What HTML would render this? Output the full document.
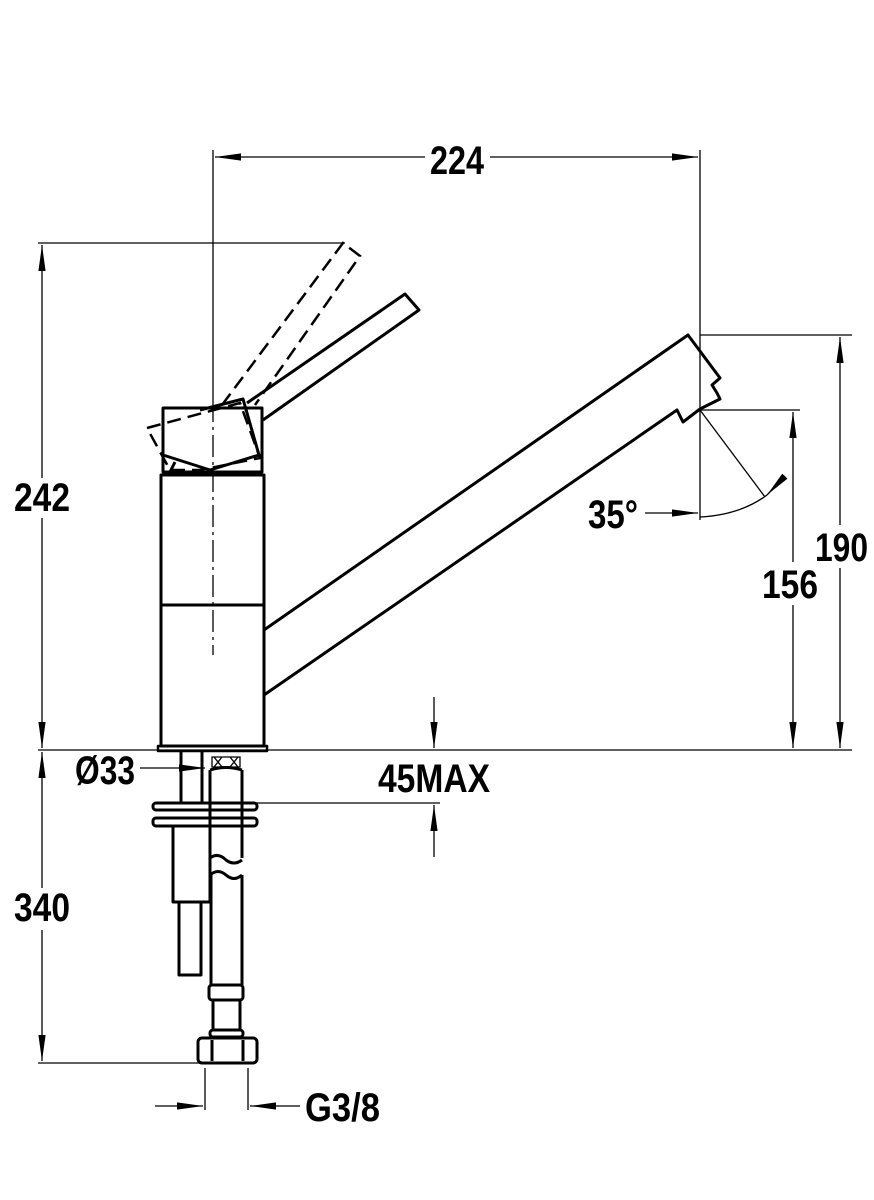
<!DOCTYPE html>
<html><head><style>body{margin:0;background:#fff}svg{display:block}text{font-family:"Liberation Sans",sans-serif;font-weight:bold;font-size:40px;fill:#000}</style></head><body>
<svg width="874" height="1200" viewBox="0 0 874 1200" xmlns="http://www.w3.org/2000/svg">
<defs>
<marker id="b" viewBox="0 0 10 10" refX="10" refY="5" markerWidth="26" markerHeight="8" orient="auto-start-reverse" markerUnits="userSpaceOnUse" preserveAspectRatio="none"><path d="M0,0.5L10,5L0,9.5z" fill="#000"/></marker></defs>
<g stroke="#000" fill="none" stroke-width="1.3">
<line x1="213" y1="150" x2="213" y2="400"/>
<line x1="213" y1="400" x2="213" y2="655" stroke-dasharray="22,5,3,5"/>
<line x1="700" y1="150" x2="700" y2="520"/>
<line x1="215" y1="157" x2="425" y2="157" marker-start="url(#b)"/>
<line x1="490" y1="157" x2="698" y2="157" marker-end="url(#b)"/>
<line x1="38" y1="243" x2="345" y2="243"/>
<line x1="42" y1="245" x2="42" y2="478" marker-start="url(#b)"/>
<line x1="42" y1="518" x2="42" y2="748" marker-end="url(#b)"/>
<line x1="38" y1="750" x2="852" y2="750"/>
<line x1="700" y1="335" x2="852" y2="335"/>
<line x1="840" y1="337" x2="840" y2="525" marker-start="url(#b)"/>
<line x1="840" y1="568" x2="840" y2="748" marker-end="url(#b)"/>
<line x1="700" y1="410" x2="800" y2="410"/>
<line x1="793" y1="412" x2="793" y2="562" marker-start="url(#b)"/>
<line x1="793" y1="605" x2="793" y2="748" marker-end="url(#b)"/>
<line x1="700" y1="410" x2="765" y2="497"/>
<path d="M700,517 Q740,515 767,495"/>
<line x1="767" y1="495" x2="785" y2="476" marker-start="url(#b)"/>
<line x1="645" y1="513" x2="698" y2="513" marker-end="url(#b)"/>
<line x1="434" y1="697" x2="434" y2="748" marker-end="url(#b)"/>
<line x1="434" y1="857" x2="434" y2="805" marker-end="url(#b)"/>
<line x1="255" y1="803" x2="440" y2="803"/>
<line x1="140" y1="768" x2="205" y2="768" marker-end="url(#b)"/>
<line x1="42" y1="752" x2="42" y2="888" marker-start="url(#b)"/>
<line x1="42" y1="930" x2="42" y2="1061" marker-end="url(#b)"/>
<line x1="38" y1="1063" x2="200" y2="1063"/>
<line x1="205" y1="1068" x2="205" y2="1110"/>
<line x1="248" y1="1068" x2="248" y2="1110"/>
<line x1="155" y1="1106" x2="203" y2="1106" marker-end="url(#b)"/>
<line x1="300" y1="1106" x2="250" y2="1106" marker-end="url(#b)"/>
</g>
<g stroke="#000" fill="none" stroke-width="3" stroke-linejoin="round">
<rect x="161" y="475" width="103" height="271"/>
<line x1="161" y1="605" x2="264" y2="605"/>
<rect x="158" y="746" width="109" height="5" stroke-width="2.5"/>
<rect x="163" y="408" width="99" height="64"/>
<path d="M163,455 L210,470 L259,455 L243,399 L200,410"/>
<line x1="170" y1="472" x2="175" y2="462"/>
<path d="M247,403 L405,294 L419,310 L263,420"/>
<path d="M264,630 L688,335 L720,378 L712,385 L717,393 L720,399 L700,409 L683,422 L677,410 L264,695"/>
<line x1="181" y1="752" x2="181" y2="803"/><line x1="202" y1="752" x2="202" y2="803"/>
<path d="M210,770 L210,858 M242,770 L242,858 M210,770 Q226,765 242,770"/>
<path d="M210,858 Q218,852 226,860 Q234,866 242,860"/>
<path d="M210,875 Q218,868 226,875 Q234,882 242,875"/>
<line x1="211" y1="875" x2="211" y2="985"/><line x1="242" y1="875" x2="242" y2="985"/>
<rect x="153" y="803" width="104" height="7" rx="3"/>
<rect x="153" y="818" width="104" height="8" rx="3"/>
<path d="M173,826 L173,902 L210,902 L210,826"/>
<path d="M179,902 L179,975 L201,975 L201,902"/>
<rect x="209" y="985" width="34" height="15" rx="3"/>
<line x1="213" y1="1000" x2="213" y2="1030"/><line x1="240" y1="1000" x2="240" y2="1030"/>
<rect x="210" y="1030" width="33" height="7" rx="3"/>
<rect x="198" y="1038" width="59" height="25" rx="4"/>
<line x1="212" y1="1040" x2="212" y2="1061"/><line x1="243" y1="1040" x2="243" y2="1061"/>
</g>
<g stroke="#000" fill="none" stroke-width="2.5" stroke-dasharray="14,7">
<path d="M222,405 L343,243 L360,256 L255,405"/>
<path d="M147,428 L240,403 L260,458 L200,470 L170,470 Z"/>
</g>
<g stroke="#000" stroke-width="1.3" fill="none"><path d="M212,757h28v10h-28zM214,757l8,10M222,757l-8,10M230,757l8,10M238,757l-8,10"/></g>
<text x="430" y="174" textLength="54" lengthAdjust="spacingAndGlyphs">224</text>
<text x="14" y="511" textLength="56" lengthAdjust="spacingAndGlyphs">242</text>
<text x="588" y="528" textLength="50" lengthAdjust="spacingAndGlyphs">35°</text>
<text x="815" y="561" textLength="53" lengthAdjust="spacingAndGlyphs">190</text>
<text x="762" y="598" textLength="56" lengthAdjust="spacingAndGlyphs">156</text>
<text x="75" y="784" textLength="60" lengthAdjust="spacingAndGlyphs">Ø33</text>
<text x="378" y="792" textLength="112" lengthAdjust="spacingAndGlyphs">45MAX</text>
<text x="14" y="921" textLength="56" lengthAdjust="spacingAndGlyphs">340</text>
<text x="305" y="1121" textLength="75" lengthAdjust="spacingAndGlyphs">G3/8</text>
</svg>
</body></html>
